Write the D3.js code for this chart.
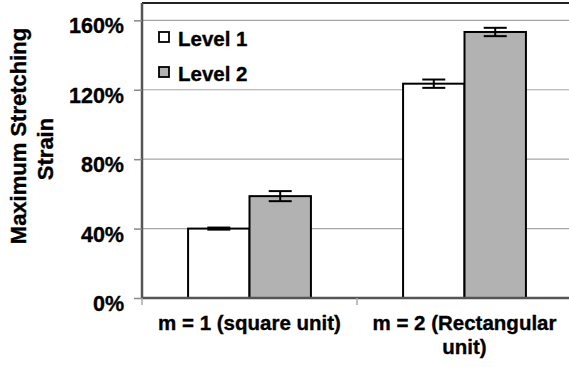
<!DOCTYPE html>
<html>
<head>
<meta charset="utf-8">
<script src="https://cdn.jsdelivr.net/npm/d3@7"></script>
<style>
  html, body { margin: 0; padding: 0; background: #fff; }
  svg { display: block; }
  text { font-family: "Liberation Sans", Arial, sans-serif; font-weight: bold; fill: #000; stroke: #000; stroke-width: 0.35px; }
</style>
</head>
<body>
<svg id="chart" width="569" height="367"></svg>
<script>
// Maximum stretching strain by unit type and level
const categories = ["m = 1 (square unit)", "m = 2 (Rectangular unit)"];
const categoryLines = [["m = 1 (square unit)"], ["m = 2 (Rectangular", "unit)"]];
const levels = ["Level 1", "Level 2"];
const level1Values = [0.400, 1.235];
const level2Values = [0.587, 1.533];
const level1Errors = [0.006, 0.024];
const level2Errors = [0.029, 0.024];
const yTicks = [0, 0.4, 0.8, 1.2, 1.6];
const levelFills = ["#ffffff", "#b2b2b2"];

const rows = categories.map((c, i) => ({
  category: c,
  bars: [
    { level: levels[0], value: level1Values[i], err: level1Errors[i] },
    { level: levels[1], value: level2Values[i], err: level2Errors[i] }
  ]
}));

const svg = d3.select("#chart");
const plot = { left: 142, right: 572, top: 3, bottom: 298 };

const y = d3.scaleLinear().domain([0, 1.7]).range([plot.bottom, plot.top]);
const x0 = d3.scaleBand().domain(categories).range([plot.left, plot.right]).paddingInner(0).paddingOuter(0);
const x1 = d3.scaleBand().domain(levels).range([0, x0.bandwidth()]).paddingInner(0).paddingOuter(0.75);
const fill = d3.scaleOrdinal().domain(levels).range(levelFills);

// gridlines
svg.append("g")
  .selectAll("line")
  .data(yTicks.filter(d => d > 0))
  .join("line")
  .attr("x1", plot.left).attr("x2", plot.right)
  .attr("y1", d => y(d)).attr("y2", d => y(d))
  .attr("stroke", "#a6a6a6").attr("stroke-width", 1.2);

// top frame
svg.append("line")
  .attr("x1", plot.left).attr("x2", plot.right)
  .attr("y1", plot.top).attr("y2", plot.top)
  .attr("stroke", "#222").attr("stroke-width", 2);

// bars
const groups = svg.append("g")
  .selectAll("g")
  .data(rows)
  .join("g")
  .attr("transform", d => `translate(${x0(d.category)},0)`);

groups.selectAll("rect")
  .data(d => d.bars)
  .join("rect")
  .attr("x", d => x1(d.level))
  .attr("y", d => y(d.value))
  .attr("width", x1.bandwidth())
  .attr("height", d => y(0) - y(d.value))
  .attr("fill", d => fill(d.level))
  .attr("stroke", "#000").attr("stroke-width", 2);

// error bars
const capHalf = 11.5;
const eb = groups.selectAll("g.err")
  .data(d => d.bars)
  .join("g").attr("class", "err")
  .attr("transform", d => `translate(${x1(d.level) + x1.bandwidth() / 2},0)`);
eb.append("line")
  .attr("y1", d => y(d.value + d.err)).attr("y2", d => y(d.value - d.err))
  .attr("stroke", "#000").attr("stroke-width", 2);
eb.selectAll("line.cap")
  .data(d => [d.value + d.err, d.value - d.err])
  .join("line").attr("class", "cap")
  .attr("x1", -capHalf).attr("x2", capHalf)
  .attr("y1", d => y(d)).attr("y2", d => y(d))
  .attr("stroke", "#000").attr("stroke-width", 2);

// y axis
const yAxis = svg.append("g")
  .attr("transform", `translate(${plot.left},0)`)
  .call(d3.axisLeft(y).tickValues(yTicks).tickFormat(d3.format(".0%")).tickSize(8).tickPadding(10));
yAxis.select(".domain").attr("stroke", "#555").attr("stroke-width", 2.5)
  .attr("d", `M0,${plot.top}V${plot.bottom}`);
yAxis.selectAll(".tick line").attr("stroke", "#888").attr("stroke-width", 1.5);
yAxis.selectAll(".tick text")
  .attr("font-size", 21.5).attr("font-family", "Liberation Sans, Arial, sans-serif")
  .attr("font-weight", "bold").attr("fill", "#000").attr("dy", "0.58em");

// x axis
const xAxis = svg.append("g")
  .attr("transform", `translate(0,${plot.bottom})`);
xAxis.append("line")
  .attr("x1", plot.left).attr("x2", plot.right)
  .attr("y1", 0).attr("y2", 0)
  .attr("stroke", "#555").attr("stroke-width", 2.5);
xAxis.selectAll("line.tick")
  .data(categories.concat([null]))
  .join("line").attr("class", "tick")
  .attr("x1", d => d === null ? plot.right : x0(d))
  .attr("x2", d => d === null ? plot.right : x0(d))
  .attr("y1", 0).attr("y2", 7)
  .attr("stroke", "#aaa").attr("stroke-width", 1.5);

const xl = svg.append("g").selectAll("text")
  .data(categories)
  .join("text")
  .attr("x", d => x0(d) + x0.bandwidth() / 2)
  .attr("y", 330)
  .attr("text-anchor", "middle")
  .attr("font-size", 20.5);
xl.selectAll("tspan")
  .data((d, i) => categoryLines[i])
  .join("tspan")
  .attr("x", function () { return this.parentNode.getAttribute("x"); })
  .attr("dy", (d, i) => i === 0 ? 0 : 23.5)
  .text(d => d);

// y title
svg.append("text")
  .attr("transform", "translate(25.5,136) rotate(-90)")
  .attr("text-anchor", "middle").attr("font-size", 22)
  .text("Maximum Stretching");
svg.append("text")
  .attr("transform", "translate(52.5,149) rotate(-90)")
  .attr("text-anchor", "middle").attr("font-size", 22)
  .text("Strain");

// legend
const legend = svg.append("g").selectAll("g")
  .data(levels)
  .join("g")
  .attr("transform", (d, i) => `translate(159,${32 + i * 35})`);
legend.append("rect")
  .attr("width", 10).attr("height", 10)
  .attr("fill", d => fill(d)).attr("stroke", "#000").attr("stroke-width", 1.8);
legend.append("text")
  .attr("x", 19).attr("y", 13.5)
  .attr("font-size", 20.5)
  .text(d => d);
</script>
</body>
</html>
